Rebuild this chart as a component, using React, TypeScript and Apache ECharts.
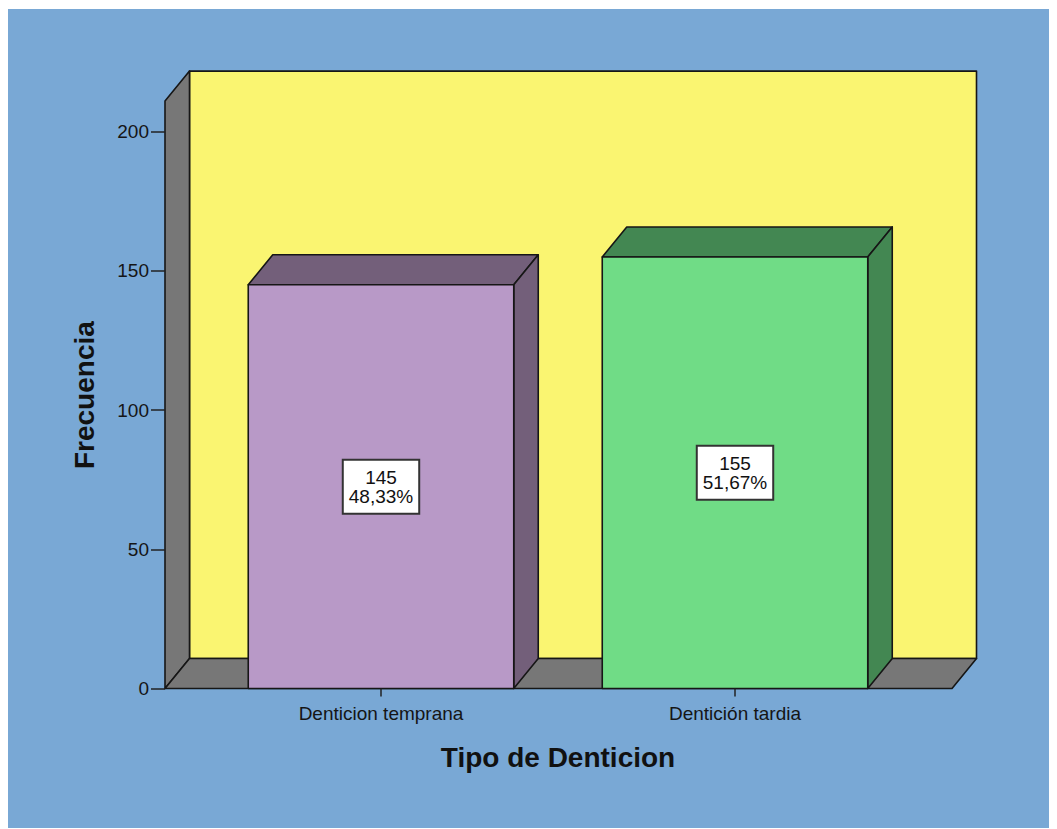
import React, { useEffect, useRef } from "react";
import * as echarts from "echarts";

// Frequencies by type of dentition
const categories = ["Denticion temprana", "Dentición tardia"];
const frequencies = [145, 155];
const frontColors = ["#B899C7", "#70DC86"];
const shadeColors = ["#735F7A", "#438752"];
const yTicks = [0, 50, 100, 150, 200];

const FONT = "'Liberation Sans', Arial, sans-serif";
const DEPTH_X = 24.5;
const DEPTH_Y = -30;
const WALL_TOP = 211;
const AXIS_OFFSET = 39;
const FLOOR_PAD_RIGHT = 40;
const EDGE = "#161616";

const total = frequencies.reduce((a, b) => a + b, 0);
const pctText = (v: number) => ((v / total) * 100).toFixed(2).replace(".", ",") + "%";

export default function App() {
  const ref = useRef<HTMLDivElement>(null);

  useEffect(() => {
    document.documentElement.style.overflow = "hidden";
    const chart = echarts.init(ref.current!, undefined, { renderer: "svg" });

    const edgeStyle = { stroke: EDGE, lineWidth: 1.6, lineJoin: "round" as const };

    chart.setOption({
      animation: false,
      backgroundColor: "#79A8D5",
      grid: { left: 196, right: 145, top: 122.7, bottom: 140.5 },
      xAxis: {
        type: "category",
        data: categories,
        axisLine: { show: false },
        axisTick: { show: true, alignWithLabel: true, length: 8, lineStyle: { color: "#222", width: 1.5 } },
        axisLabel: { color: "#151515", fontSize: 19, fontFamily: FONT, margin: 15 },
        name: "Tipo de Denticion",
        nameLocation: "middle",
        nameGap: 55,
        nameTextStyle: { color: "#111", fontSize: 28, fontWeight: "bold", fontFamily: FONT },
        splitLine: { show: false },
        z: 10,
      },
      yAxis: {
        type: "value",
        min: yTicks[0],
        max: yTicks[yTicks.length - 1],
        interval: 50,
        offset: AXIS_OFFSET,
        axisLine: { show: false },
        axisTick: { show: true, length: 14, lineStyle: { color: "#222", width: 1.5 } },
        axisLabel: { color: "#151515", fontSize: 19, fontFamily: FONT, margin: 16 },
        splitLine: { show: false },
        name: "Frecuencia",
        nameLocation: "middle",
        nameGap: 67,
        nameTextStyle: {
          color: "#111",
          fontSize: 28,
          fontWeight: "bold",
          fontFamily: FONT,
          padding: [0, 0, 0, 30],
        },
        z: 10,
      },
      series: [
        {
          // back wall, side wall and floor of the 3D frame
          type: "custom",
          silent: true,
          z: 1,
          data: [[0, 0]],
          renderItem: (params: any, api: any) => {
            const cs = params.coordSys;
            const xL = cs.x - AXIS_OFFSET;
            const xR = cs.x + cs.width + FLOOR_PAD_RIGHT;
            const y0 = api.coord([0, 0])[1];
            const yT = api.coord([0, WALL_TOP])[1];
            return {
              type: "group",
              children: [
                {
                  type: "rect",
                  shape: { x: xL + DEPTH_X, y: yT + DEPTH_Y, width: xR - xL, height: y0 - yT },
                  style: { fill: "#FAF571", ...edgeStyle },
                },
                {
                  type: "polygon",
                  shape: {
                    points: [
                      [xL, y0],
                      [xL + DEPTH_X, y0 + DEPTH_Y],
                      [xL + DEPTH_X, yT + DEPTH_Y],
                      [xL, yT],
                    ],
                  },
                  style: { fill: "#777777", ...edgeStyle },
                },
                {
                  type: "polygon",
                  shape: {
                    points: [
                      [xL, y0],
                      [xR, y0],
                      [xR + DEPTH_X, y0 + DEPTH_Y],
                      [xL + DEPTH_X, y0 + DEPTH_Y],
                    ],
                  },
                  style: { fill: "#777777", ...edgeStyle },
                },
              ],
            };
          },
        },
        {
          // 3D bars with count and percentage labels
          type: "custom",
          name: "Frecuencia",
          z: 5,
          data: categories.map((_, i) => [i, frequencies[i]]),
          renderItem: (params: any, api: any) => {
            const i = api.value(0);
            const v = api.value(1);
            const [cx, yt] = api.coord([i, v]);
            const yb = api.coord([i, 0])[1];
            const ym = api.coord([i, v / 2])[1];
            const bw = api.size([1, 0])[0] * 0.75;
            const x0 = cx - bw / 2;
            const x1 = cx + bw / 2;
            const idx = params.dataIndex;
            return {
              type: "group",
              children: [
                {
                  type: "polygon",
                  shape: {
                    points: [
                      [x0, yt],
                      [x1, yt],
                      [x1 + DEPTH_X, yt + DEPTH_Y],
                      [x0 + DEPTH_X, yt + DEPTH_Y],
                    ],
                  },
                  style: { fill: shadeColors[idx], ...edgeStyle },
                },
                {
                  type: "polygon",
                  shape: {
                    points: [
                      [x1, yt],
                      [x1 + DEPTH_X, yt + DEPTH_Y],
                      [x1 + DEPTH_X, yb + DEPTH_Y],
                      [x1, yb],
                    ],
                  },
                  style: { fill: shadeColors[idx], ...edgeStyle },
                },
                {
                  type: "rect",
                  shape: { x: x0, y: yt, width: bw, height: yb - yt },
                  style: { fill: frontColors[idx], ...edgeStyle },
                },
                {
                  type: "text",
                  z2: 20,
                  style: {
                    text: `${v}\n${pctText(v)}`,
                    x: cx,
                    y: ym,
                    align: "center",
                    verticalAlign: "middle",
                    fontSize: 19,
                    fontFamily: FONT,
                    lineHeight: 19,
                    fill: "#111",
                    backgroundColor: "#ffffff",
                    borderColor: "#333",
                    borderWidth: 2,
                    padding: [7, 5, 7, 5],
                  },
                },
              ],
            };
          },
        },
      ],
    });

    return () => chart.dispose();
  }, []);

  return (
    <div
      ref={ref}
      style={{ width: 1049, height: 820, position: "relative", top: 1 }}
    />
  );
}
